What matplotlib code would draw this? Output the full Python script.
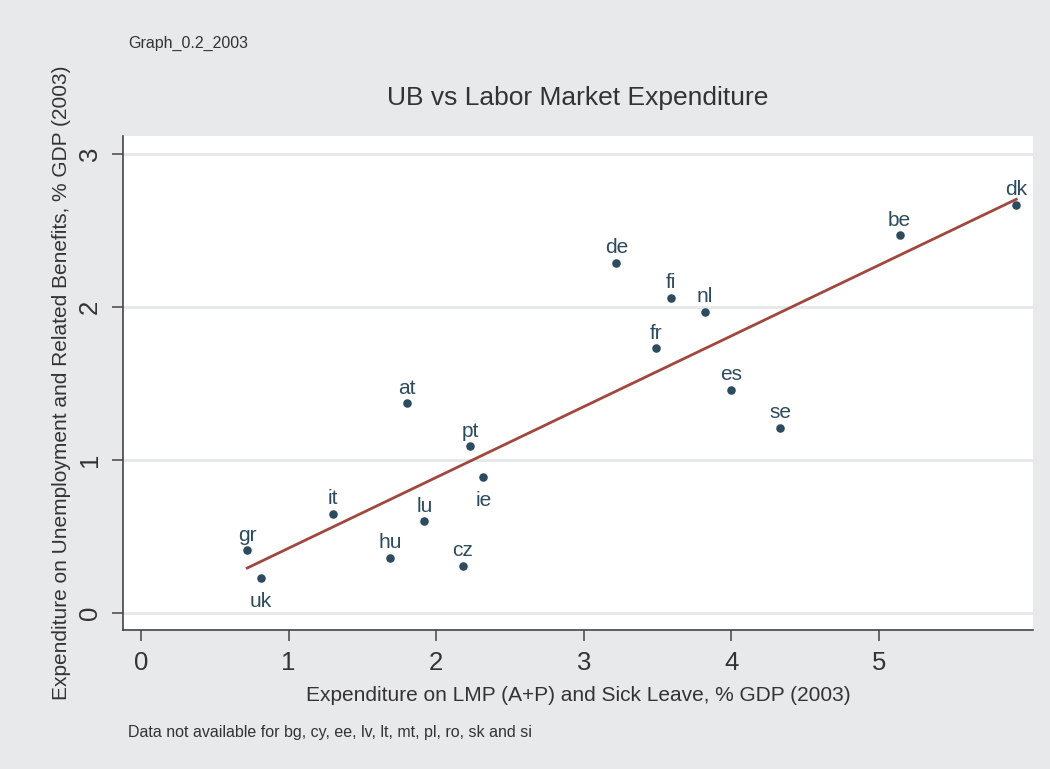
import matplotlib.pyplot as plt
import numpy as np

plt.rcParams['font.family'] = ['Liberation Sans', 'DejaVu Sans']

# country codes and values
countries = ['gr', 'uk', 'it', 'hu', 'lu', 'cz', 'at', 'pt', 'ie',
             'de', 'fi', 'fr', 'nl', 'es', 'se', 'be', 'dk']
lmp_exp = [0.72, 0.81, 1.30, 1.69, 1.92, 2.18, 1.80, 2.23, 2.32,
           3.22, 3.59, 3.49, 3.82, 4.00, 4.33, 5.14, 5.93]
ub_exp = [0.41, 0.23, 0.65, 0.36, 0.60, 0.31, 1.37, 1.09, 0.89,
          2.29, 2.06, 1.73, 1.97, 1.46, 1.21, 2.47, 2.67]
below = ['uk', 'ie']

bg = '#e8e9eb'
dot_col = '#2d4b5f'
fit_col = '#a0473e'
txt_col = '#333333'

fig = plt.figure(figsize=(10.5, 7.69), dpi=100, facecolor=bg)
ax = fig.add_axes([0.1171, 0.1808, 0.8667, 0.6423])
ax.set_facecolor('white')

# linear fit, drawn over the range of the data
slope, icpt = np.polyfit(lmp_exp, ub_exp, 1)
xs = np.array([min(lmp_exp), max(lmp_exp)])
ax.plot(xs, icpt + slope * xs, color=fit_col, lw=2, zorder=3)

ax.scatter(lmp_exp, ub_exp, s=38, color=dot_col, zorder=4, linewidths=0)
for c, x, y in zip(countries, lmp_exp, ub_exp):
    if c in below:
        ax.annotate(c, (x, y), xytext=(0, -10), textcoords='offset points',
                    ha='center', va='top', fontsize=15, color=dot_col)
    else:
        ax.annotate(c, (x, y), xytext=(0, 4), textcoords='offset points',
                    ha='center', va='bottom', fontsize=15, color=dot_col)

ax.set_xlim(-0.122, 6.043)
ax.set_ylim(-0.111, 3.118)
ax.set_xticks([0, 1, 2, 3, 4, 5])
ax.set_yticks([0, 1, 2, 3])
ax.yaxis.grid(True, color='#e6e7e8', lw=2)
ax.set_axisbelow(True)

for s in ['top', 'right']:
    ax.spines[s].set_visible(False)
for s in ['left', 'bottom']:
    ax.spines[s].set_color('#444444')
    ax.spines[s].set_linewidth(1.2)
ax.tick_params(direction='out', length=8, width=1.1, color='#444444',
               labelsize=18.5, labelcolor=txt_col, pad=7)
plt.setp(ax.get_yticklabels(), rotation=90, va='center')

ax.set_xlabel('Expenditure on LMP (A+P) and Sick Leave, % GDP (2003)',
              fontsize=15, color=txt_col, labelpad=8)
ax.set_ylabel('Expenditure on Unemployment and Related Benefits, % GDP (2003)',
              fontsize=15, color=txt_col, labelpad=5)

fig.text(0.5505, 1 - 98 / 769, 'UB vs Labor Market Expenditure',
         ha='center', va='center', fontsize=19, color=txt_col)
fig.text(128 / 1050, 1 - 43 / 769, 'Graph_0.2_2003',
         ha='left', va='center', fontsize=11.5, color=txt_col)
fig.text(128 / 1050, 1 - 733 / 769,
         'Data not available for bg, cy, ee, lv, lt, mt, pl, ro, sk and si',
         ha='left', va='center', fontsize=11.5, color=txt_col)

fig.savefig('out.png', dpi=100, facecolor=bg)
